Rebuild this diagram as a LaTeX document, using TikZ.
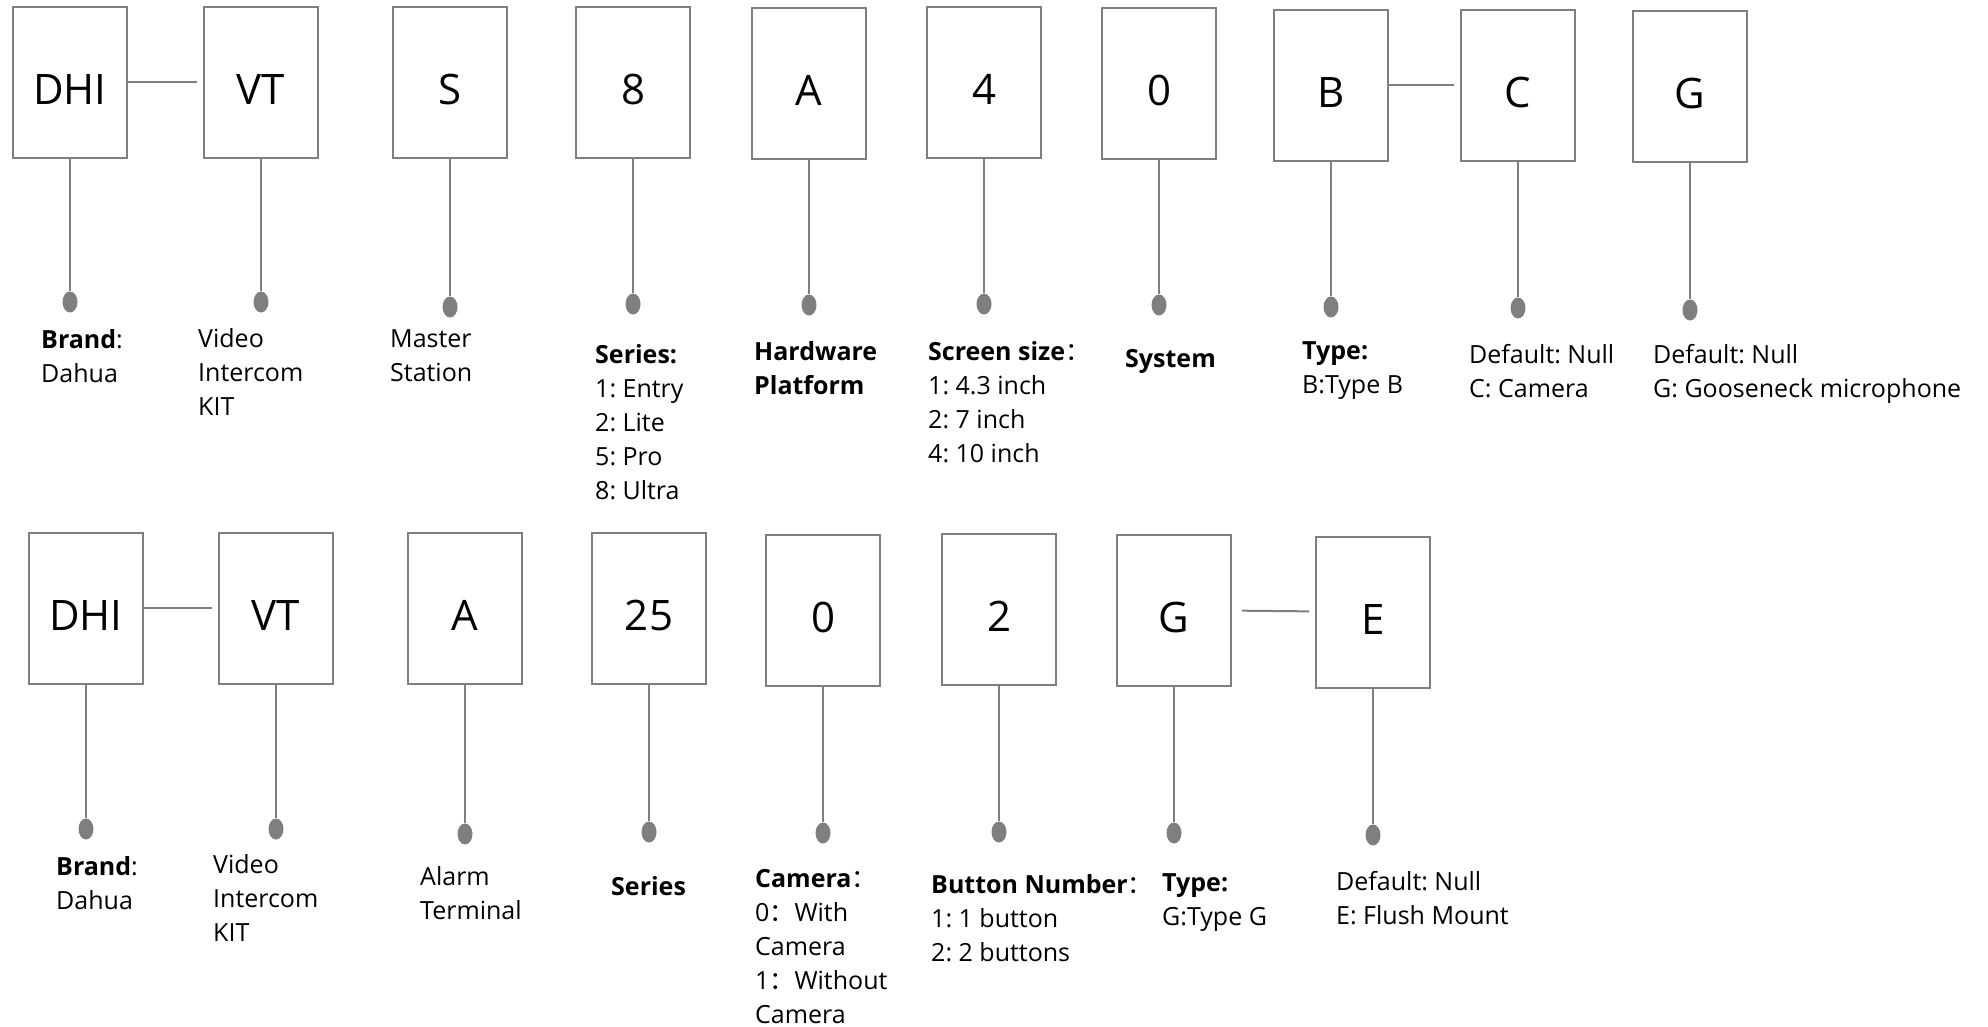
\documentclass[tikz,border=0pt]{standalone}
\usepackage{fontspec}
\setmainfont{Open Sans}
\newfontfamily\cjk{Noto Sans CJK SC}
\usetikzlibrary{shapes.geometric}
\definecolor{codegray}{HTML}{7F7F7F}
\frenchspacing

\begin{document}
\begin{tikzpicture}[x=1pt, y=-1pt,
    code/.style={rectangle, draw=codegray, line width=2pt, minimum width=114pt, minimum height=151pt, inner sep=0pt, text height=44pt, text depth=0pt, font=\fontsize{42}{50}\selectfont},
    pin/.style={ellipse, fill=codegray, minimum width=15pt, minimum height=21pt, inner sep=0pt},
    note/.style={anchor=north west, align=left, inner sep=0pt, yshift=-5pt, font=\fontsize{25}{34}\selectfont, execute at begin node=\strut},
    stem/.style={draw=codegray, line width=2pt},
    link/.style={draw=codegray, line width=2pt, shorten >=6pt}
]
\useasboundingbox (0,0) rectangle (1988,1026);

% first model: DHI-VTS8A40B-CG
\node[code] (dhiA) at (70,82) {DHI};
\node[code] (vtA) at (261,82) {VT};
\node[code] (sA) at (450,82) {S};
\node[code] (serA) at (633,82) {8};
\node[code] (hwA) at (809,83) {A};
\node[code] (scrA) at (984,82) {4};
\node[code] (sysA) at (1159,83) {0};
\node[code] (typA) at (1331,85) {B};
\node[code] (camA) at (1518,85) {C};
\node[code] (micA) at (1690,86) {G};

\node[pin] (dhiAp) at (70,302) {};
\node[pin] (vtAp) at (261,302) {};
\node[pin] (sAp) at (450,307) {};
\node[pin] (serAp) at (633,304) {};
\node[pin] (hwAp) at (809,305) {};
\node[pin] (scrAp) at (984,304) {};
\node[pin] (sysAp) at (1159,305) {};
\node[pin] (typAp) at (1331,307) {};
\node[pin] (camAp) at (1518,308) {};
\node[pin] (micAp) at (1690,310) {};

\node[note] (dhiAt) at (41,324) {\textbf{Brand}:\\Dahua};
\node[note] (vtAt) at (198,323) {Video\\Intercom\\KIT};
\node[note] (sAt) at (390,324) {Master\\Station};
\node[note] (serAt) at (595,339) {\textbf{Series:}\\1: Entry\\2: Lite\\5: Pro\\8: Ultra};
\node[note] (hwAt) at (754,336) {\textbf{Hardware}\\\textbf{Platform}};
\node[note] (scrAt) at (928,336) {\textbf{Screen size}{\cjk ：}\\1: 4.3 inch\\2: 7 inch\\4: 10 inch};
\node[note] (sysAt) at (1125,338) {\textbf{System}};
\node[note] (typAt) at (1302,336) {\textbf{Type:}\\B:Type B};
\node[note] (camAt) at (1469,339) {Default: Null\\C: Camera};
\node[note] (micAt) at (1653,339) {Default: Null\\G: Gooseneck microphone};

\draw[link] (dhiA) -- (vtA);
\draw[link] (typA) -- (camA);
\draw[stem] (dhiA) -- (dhiAp);
\draw[stem] (vtA) -- (vtAp);
\draw[stem] (sA) -- (sAp);
\draw[stem] (serA) -- (serAp);
\draw[stem] (hwA) -- (hwAp);
\draw[stem] (scrA) -- (scrAp);
\draw[stem] (sysA) -- (sysAp);
\draw[stem] (typA) -- (typAp);
\draw[stem] (camA) -- (camAp);
\draw[stem] (micA) -- (micAp);

% second model: DHI-VTA2502G-E
\node[code] (dhiB) at (86,608) {DHI};
\node[code] (vtB) at (276,608) {VT};
\node[code] (alB) at (465,608) {A};
\node[code] (serB) at (649,608) {25};
\node[code] (camB) at (823,610) {0};
\node[code] (btnB) at (999,609) {2};
\node[code] (typB) at (1174,610) {G};
\node[code] (mntB) at (1373,612) {E};

\node[pin] (dhiBp) at (86,829) {};
\node[pin] (vtBp) at (276,829) {};
\node[pin] (alBp) at (465,834) {};
\node[pin] (serBp) at (649,832) {};
\node[pin] (camBp) at (823,833) {};
\node[pin] (btnBp) at (999,832) {};
\node[pin] (typBp) at (1174,833) {};
\node[pin] (mntBp) at (1373,835) {};

\node[note] (dhiBt) at (56,851) {\textbf{Brand}:\\Dahua};
\node[note] (vtBt) at (213,849) {Video\\Intercom\\KIT};
\node[note] (alBt) at (420,861) {Alarm\\Terminal};
\node[note] (serBt) at (611,866) {\textbf{Series}};
\node[note] (camBt) at (755,864) {\textbf{Camera}{\cjk ：}\\0{\cjk ：}With\\Camera\\1{\cjk ：}Without\\Camera};
\node[note] (btnBt) at (931,869) {\textbf{Button Number}{\cjk ：}\\1: 1 button\\2: 2 buttons};
\node[note] (typBt) at (1162,868) {\textbf{Type:}\\G:Type G};
\node[note] (mntBt) at (1336,866) {Default: Null\\E: Flush Mount};

\draw[link] (dhiB) -- (vtB);
\draw[link, shorten <=10pt] (typB) -- (mntB);
\draw[stem] (dhiB) -- (dhiBp);
\draw[stem] (vtB) -- (vtBp);
\draw[stem] (alB) -- (alBp);
\draw[stem] (serB) -- (serBp);
\draw[stem] (camB) -- (camBp);
\draw[stem] (btnB) -- (btnBp);
\draw[stem] (typB) -- (typBp);
\draw[stem] (mntB) -- (mntBp);
\end{tikzpicture}
\end{document}
